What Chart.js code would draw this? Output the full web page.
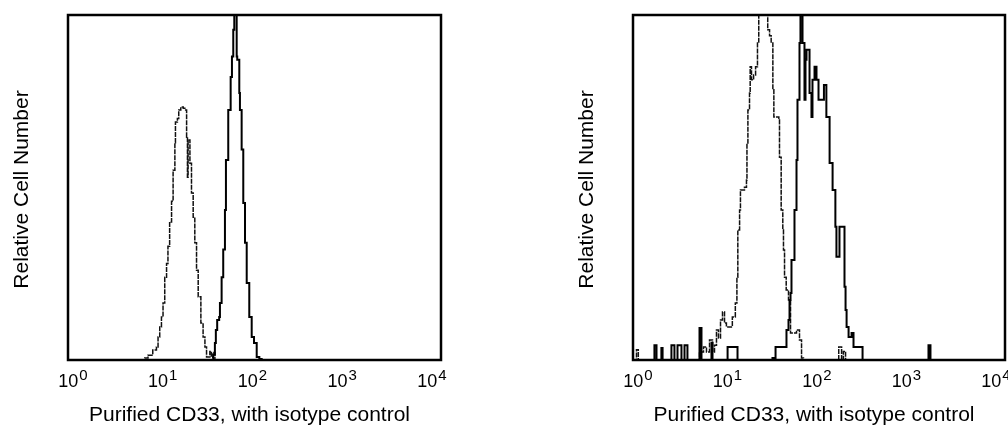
<!DOCTYPE html>
<html>
<head>
<meta charset="utf-8">
<title>Purified CD33, with isotype control</title>
<script src="https://cdn.jsdelivr.net/npm/chart.js@4/dist/chart.umd.min.js"></script>
<style>
  html, body { margin: 0; padding: 0; background: #fff; }
  #wrap { position: relative; width: 1008px; height: 426px; overflow: hidden; }
  canvas { position: absolute; top: 0; }
  #left { left: 0; }
  #right { left: 504px; }
</style>
</head>
<body>
<div id="wrap">
  <canvas id="left" width="504" height="426"></canvas>
  <canvas id="right" width="504" height="426"></canvas>
</div>
<script>
// axis text
const xTitle = 'Purified CD33, with isotype control';
const yTitle = 'Relative Cell Number';
const tickExponents = [0, 1, 2, 3, 4];

// left panel, isotype control (dotted)
const leftIsoX = [6.0, 6.65, 7.21, 8.11, 8.88, 9.24, 9.63, 10.05, 10.45, 10.9, 11.4, 11.8, 12.3, 12.9, 13.4, 14.0, 14.2, 14.9, 15.4, 16.2, 17.2, 17.9, 18.7, 19.1, 19.4, 20.3, 21.1, 22.0, 22.9, 23.9, 24.9, 26.6, 28.1, 29.4, 30.6, 33.2, 34.5, 36.0, 37.6];
const leftIsoY = [0, 0.6, 1.4, 2.9, 3.8, 6.7, 9.6, 12.5, 16.5, 24, 28, 33, 40, 46, 55, 63, 69, 70, 72.5, 73.3, 73, 72.5, 64.6, 53, 63.8, 57, 48.4, 41.4, 34, 26, 18.3, 10.7, 6.7, 3.8, 0.9, 2.5, 0.8, 2.2, 0];

// left panel, CD33 (solid)
const leftCdX = [34.0, 36.1, 37.6, 38.5, 39.8, 41.8, 42.6, 44.4, 46.2, 48.2, 49.4, 52.3, 55.5, 57.3, 59.2, 60.7, 64.4, 65.3, 68.7, 69.8, 72.8, 75.8, 79.1, 82.5, 87.9, 93.3, 98.8, 105.6, 112.7, 119.4];
const leftCdY = [0, 1.5, 4.9, 8.7, 11.6, 12.5, 16.5, 24, 32, 43.5, 58, 72.5, 82, 88, 95.7, 106, 88, 87, 77.4, 72.5, 61, 45.5, 34, 22.3, 12.5, 6.7, 4.9, 0.9, 0.3, 0];

// right panel, isotype control (dotted)
const rightIsoX = [1.0, 1.09, 1.14, 4.82, 5.19, 5.73, 6.17, 6.65, 7.16, 7.52, 7.90, 8.30, 8.73, 9.17, 9.64, 10.1, 11.7, 12.6, 13.1, 13.4, 14.0, 14.3, 15.8, 16.6, 16.8, 17.2, 17.9, 18.2, 18.8, 19.8, 20.8, 21.8, 22.5, 28.1, 29.4, 30.6, 31.9, 32.7, 37.0, 37.6, 39.2, 40.8, 41.5, 42.6, 44.4, 47.0, 49.4, 57.3, 61.7, 64.9, 68.1, 163, 175, 183, 193];
const rightIsoY = [0, 3, 0, 0, 2.3, 3.8, 2.3, 5.8, 2.3, 4.3, 8.7, 6.4, 11.6, 13.9, 10.7, 9.6, 12.5, 16.5, 24, 37.7, 43.5, 49.3, 50.1, 52.2, 62.9, 72.5, 77.4, 85, 81.2, 82.6, 85, 91.9, 110, 95.7, 94, 91.9, 78.3, 70.4, 69.6, 58.8, 43.5, 37.7, 31.9, 24, 20.3, 17.4, 7.8, 8.7, 5.8, 0.6, 0, 3.8, 0, 2.5, 0];

// right panel, CD33 (solid)
const rightCdX = [1.0, 1.70, 1.79, 2.02, 2.08, 2.59, 2.79, 3.01, 3.32, 3.58, 3.85, 5.19, 5.45, 6.98, 7.16, 10.4, 13.3, 31.6, 34.1, 44.7, 47.0, 48.2, 49.4, 50.6, 54.5, 57.3, 58.7, 61.7, 63.2, 66.5, 69.8, 71.6, 73.4, 79.1, 83.0, 85.1, 89.5, 94.0, 98.8, 113, 120, 130, 140, 150, 154, 166, 188, 193, 198, 208, 224, 235, 294, 1504, 1580];
const rightCdY = [0, 4.3, 0, 3.5, 0, 4.3, 0, 4.3, 0, 4.3, 0, 9.3, 0, 5, 0, 3.8, 0, 0.6, 3.8, 8.7, 11.6, 17.4, 19.4, 29, 43.5, 58, 75.4, 91.9, 110, 91.9, 75.4, 87, 89.9, 77.4, 70.4, 81.2, 85, 81.2, 75.4, 79.7, 70.4, 57.1, 49.3, 38.6, 29.9, 38.6, 21.2, 14.5, 9.6, 6.7, 7.8, 3.8, 0, 4.3, 0];

const FONT = "'Liberation Sans', Arial, sans-serif";

function points(xs, ys) {
    return xs.map(function (x, i) { return {x: x, y: ys[i]}; });
}

// frame, decade labels and axis titles
const framePlugin = {
    id: 'frame',
    afterDraw: function (chart) {
        const ctx = chart.ctx;
        const area = chart.chartArea;
        const xs = chart.scales.x;
        ctx.save();
        ctx.strokeStyle = '#000';
        ctx.lineWidth = 2.5;
        ctx.strokeRect(area.left, area.top, area.right - area.left, area.bottom - area.top);

        ctx.fillStyle = '#000';
        ctx.textBaseline = 'alphabetic';
        ctx.textAlign = 'left';
        tickExponents.forEach(function (k) {
            const px = xs.getPixelForValue(Math.pow(10, k));
            const cx = area.left + 5 + (px - area.left) * 0.962;
            ctx.font = '18px ' + FONT;
            const wb = ctx.measureText('10').width;
            ctx.font = '15px ' + FONT;
            const ws = ctx.measureText(String(k)).width;
            const x0 = cx - (wb + ws + 1) / 2;
            ctx.font = '18px ' + FONT;
            ctx.fillText('10', x0, area.bottom + 27);
            ctx.font = '15px ' + FONT;
            ctx.fillText(String(k), x0 + wb + 1, area.bottom + 20);
        });

        ctx.font = '21px ' + FONT;
        ctx.textAlign = 'center';
        ctx.fillText(xTitle, (area.left + area.right) / 2 - 5, area.bottom + 61);

        ctx.translate(area.left - 40, (area.top + area.bottom) / 2 + 2);
        ctx.rotate(-Math.PI / 2);
        ctx.fillText(yTitle, 0, 0);
        ctx.restore();
    }
};

function makeChart(id, isoX, isoY, cdX, cdY, padding) {
    return new Chart(document.getElementById(id), {
        type: 'line',
        data: {
            datasets: [{
                label: 'CD33',
                data: points(cdX, cdY),
                borderColor: '#000',
                borderWidth: 2,
                stepped: true,
                pointRadius: 0,
                fill: false
            },
                {
                    label: 'isotype control',
                    data: points(isoX, isoY),
                    borderColor: '#111',
                    borderWidth: 1.5,
                    borderDash: [5, 1],
                    stepped: true,
                    pointRadius: 0,
                    fill: false
                }]
        },
        options: {
            responsive: false,
            animation: false,
            events: [],
            layout: {padding: padding},
            plugins: {
                legend: {display: false},
                tooltip: {enabled: false}
            },
            scales: {
                x: {type: 'logarithmic', min: 1, max: 10000, display: false},
                y: {min: 0, max: 100, display: false}
            }
        },
        plugins: [framePlugin]
    });
}

makeChart('left', leftIsoX, leftIsoY, leftCdX, leftCdY, {left: 68, right: 63, top: 15, bottom: 66});
makeChart('right', rightIsoX, rightIsoY, rightCdX, rightCdY, {left: 129, right: 3, top: 15, bottom: 66});
</script>
</body>
</html>
